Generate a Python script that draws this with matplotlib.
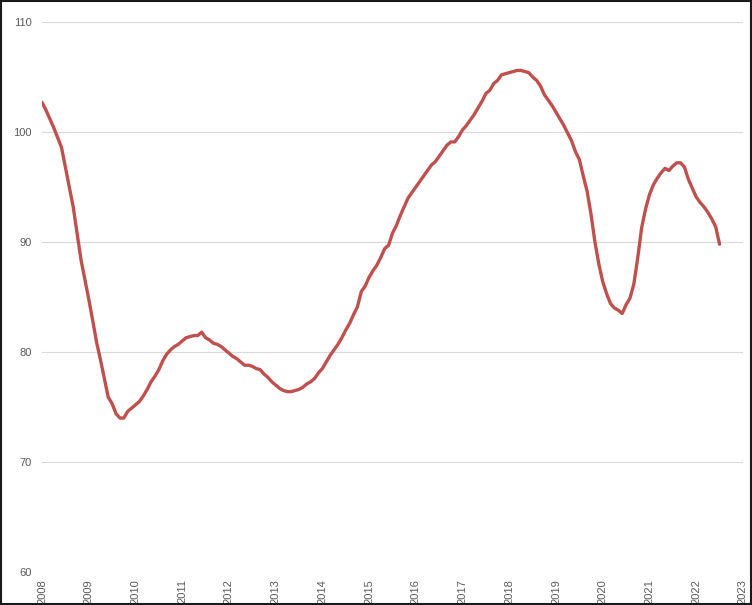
import numpy as np
import matplotlib.pyplot as plt
from matplotlib.patches import Rectangle

# Monthly index values, Jan 2008 - Jul 2022
values = [
    102.7, 102.0, 101.2, 100.4, 99.5, 98.6, 96.8, 95.0, 93.2, 90.8, 88.4, 86.6,   # 2008
    84.8, 82.9, 80.9, 79.3, 77.6, 75.9, 75.3, 74.4, 74.0, 74.0, 74.6, 74.9,       # 2009
    75.2, 75.5, 76.0, 76.6, 77.3, 77.8, 78.4, 79.2, 79.8, 80.2, 80.5, 80.7,       # 2010
    81.0, 81.3, 81.4, 81.5, 81.5, 81.8, 81.3, 81.1, 80.8, 80.7, 80.5, 80.2,       # 2011
    79.9, 79.6, 79.4, 79.1, 78.8, 78.8, 78.7, 78.5, 78.4, 78.0, 77.7, 77.3,       # 2012
    77.0, 76.7, 76.5, 76.4, 76.4, 76.5, 76.6, 76.8, 77.1, 77.3, 77.6, 78.1,       # 2013
    78.5, 79.1, 79.7, 80.2, 80.7, 81.3, 82.0, 82.6, 83.4, 84.1, 85.5, 86.0,       # 2014
    86.8, 87.4, 87.9, 88.6, 89.4, 89.7, 90.8, 91.5, 92.4, 93.2, 94.0, 94.5,       # 2015
    95.0, 95.5, 96.0, 96.5, 97.0, 97.3, 97.8, 98.3, 98.8, 99.1, 99.1, 99.6,       # 2016
    100.2, 100.6, 101.1, 101.6, 102.2, 102.8, 103.5, 103.8, 104.4, 104.7, 105.2, 105.3,  # 2017
    105.4, 105.5, 105.6, 105.6, 105.5, 105.4, 105.0, 104.7, 104.2, 103.4, 102.9, 102.4,  # 2018
    101.8, 101.2, 100.6, 99.9, 99.2, 98.2, 97.5, 96.0, 94.6, 92.5, 90.0, 88.0,    # 2019
    86.4, 85.3, 84.4, 84.0, 83.8, 83.5, 84.3, 84.9, 86.2, 88.6, 91.3, 93.0,       # 2020
    94.3, 95.2, 95.8, 96.3, 96.7, 96.5, 96.9, 97.2, 97.2, 96.8, 95.7, 94.9,       # 2021
    94.1, 93.6, 93.2, 92.7, 92.1, 91.4, 89.8,                                     # 2022
]
years = list(range(2008, 2024))
yticks = [60, 70, 80, 90, 100, 110]

t = 2008 + np.arange(len(values)) / 12

plt.rcParams['font.family'] = ['Liberation Sans', 'DejaVu Sans']

fig = plt.figure(figsize=(7.52, 6.05), dpi=100)
ax = fig.add_axes([0.0559, 0.0545, 0.932, 0.9091])

ax.plot(t, values, color='#C0504D', lw=2.4, solid_capstyle='round', solid_joinstyle='round', zorder=3)

ax.set_xlim(2008, 2023)
ax.set_ylim(60, 110)
ax.set_yticks(yticks)
ax.set_xticks(years)
ax.set_xticklabels([str(y) for y in years], rotation=90)
ax.grid(axis='y', color='#D9D9D9', lw=0.8)
ax.set_axisbelow(True)
for s in ax.spines.values():
    s.set_visible(False)
ax.tick_params(axis='both', length=0, labelsize=8, labelcolor='#595959')
ax.tick_params(axis='y', pad=7.5)
ax.tick_params(axis='x', pad=5)

# outer border of the chart
fig.patches.append(Rectangle((0.001, 0.001), 0.998, 0.998, transform=fig.transFigure,
                             fill=False, edgecolor='#1a1a1a', lw=1.5))

fig.savefig('out.png', dpi=100)
